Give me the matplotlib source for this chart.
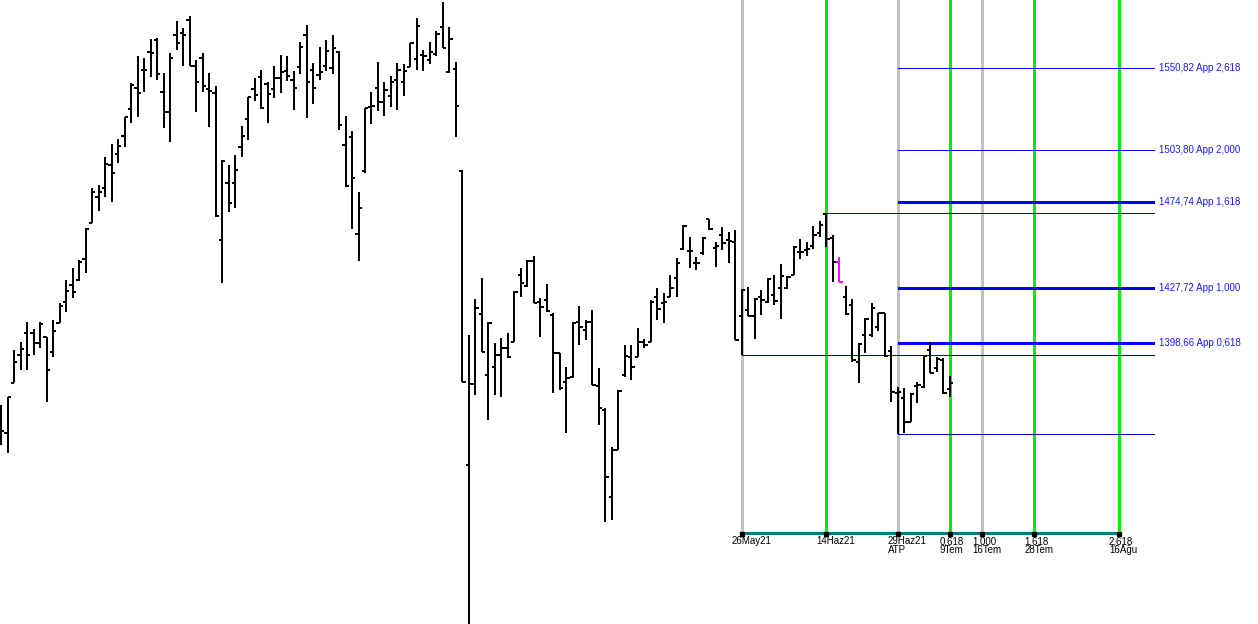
import numpy as np
import pandas as pd
import matplotlib
matplotlib.use('Agg')
import matplotlib.pyplot as plt
from matplotlib.collections import LineCollection

# Gunluk bar verisi (147 islem gunu, 9 Temmuz 2021'de biter)
dates = pd.bdate_range(end='2021-07-09', periods=147)

opens = [
    1353.2, 1352.2, 1377.8, 1392.4, 1403.9, 1403.9, 1398.6, 1401.8, 1394.0, 1409.2,
    1420.4, 1429.5, 1432.2, 1443.5, 1463.2, 1477.4, 1482.5, 1495.4, 1501.5, 1511.8,
    1527.1, 1539.2, 1549.7, 1560.2, 1567.3, 1536.9, 1525.5, 1570.3, 1571.4, 1579.1,
    1552.1, 1556.7, 1538.6, 1536.3, 1453.8, 1485.3, 1485.3, 1505.5, 1521.5, 1538.6,
    1545.6, 1541.5, 1538.6, 1545.0, 1549.1, 1543.9, 1551.5, 1570.3, 1549.7, 1546.8,
    1552.1, 1550.9, 1560.2, 1506.7, 1511.2, 1457.1, 1492.0, 1528.4, 1539.2, 1531.3,
    1534.6, 1543.9, 1542.7, 1551.5, 1556.1, 1558.5, 1555.6, 1559.0, 1575.0, 1548.5,
    1550.3, 1492.0, 1336.0, 1377.3, 1414.0, 1382.0, 1386.1, 1392.4, 1396.0, 1399.2,
    1434.9, 1428.9, 1442.4, 1420.4, 1421.4, 1413.5, 1393.4, 1378.4, 1380.9, 1409.8,
    1405.5, 1409.8, 1376.2, 1363.9, 1320.0, 1343.6, 1382.0, 1391.3, 1391.3, 1399.2,
    1399.2, 1423.0, 1419.8, 1423.0, 1433.2, 1448.9, 1447.9, 1441.4, 1446.8, 1465.4,
    1449.4, 1456.6, 1453.8, 1452.7, 1412.9, 1416.1, 1412.9, 1423.0, 1420.4, 1424.1,
    1427.8, 1427.8, 1434.9, 1447.3, 1448.4, 1450.5, 1457.7, 1468.1, 1454.9, 1441.9,
    1423.0, 1418.7, 1388.8, 1402.9, 1402.9, 1407.1, 1414.5, 1394.5, 1372.6, 1370.1,
    1357.8, 1376.2, 1375.8, 1395.0, 1385.6, 1389.8, 1374.7,
]
highs = [
    1366.5, 1370.5, 1395.0, 1399.2, 1409.8, 1406.1, 1409.8, 1401.8, 1410.8, 1419.8,
    1432.2, 1438.6, 1443.0, 1460.4, 1482.5, 1484.2, 1499.8, 1507.2, 1510.1, 1522.6,
    1542.1, 1557.9, 1556.7, 1567.9, 1568.5, 1547.9, 1559.6, 1578.5, 1574.4, 1581.6,
    1555.6, 1559.6, 1547.9, 1540.4, 1498.2, 1495.4, 1501.0, 1517.5, 1534.0, 1545.0,
    1549.7, 1542.7, 1552.1, 1558.5, 1557.9, 1549.1, 1566.1, 1576.2, 1553.8, 1563.2,
    1567.3, 1570.3, 1560.8, 1523.2, 1514.6, 1480.3, 1527.9, 1536.9, 1554.4, 1542.7,
    1546.2, 1553.8, 1553.2, 1565.5, 1580.4, 1561.4, 1566.1, 1572.6, 1589.8, 1575.0,
    1554.4, 1492.6, 1402.9, 1421.9, 1433.2, 1409.8, 1398.6, 1401.3, 1403.9, 1426.3,
    1438.6, 1443.0, 1445.1, 1422.4, 1430.0, 1414.5, 1393.4, 1386.1, 1409.8, 1418.2,
    1410.8, 1416.1, 1385.6, 1364.9, 1345.1, 1374.2, 1397.6, 1397.6, 1406.6, 1400.8,
    1421.4, 1427.8, 1425.2, 1434.9, 1444.0, 1462.1, 1455.5, 1444.6, 1455.5, 1465.4,
    1452.7, 1461.0, 1458.2, 1459.3, 1427.3, 1428.4, 1422.4, 1426.8, 1433.2, 1434.9,
    1440.8, 1434.4, 1450.5, 1454.3, 1452.7, 1461.5, 1464.3, 1468.66, 1456.6, 1444.6,
    1428.9, 1421.9, 1398.6, 1411.9, 1419.8, 1414.5, 1414.5, 1397.0, 1375.8, 1375.2,
    1372.6, 1378.4, 1392.4, 1399.2, 1391.3, 1390.8, 1381.5,
]
lows = [
    1346.1, 1342.1, 1377.8, 1384.6, 1384.6, 1392.4, 1396.0, 1368.0, 1391.3, 1409.2,
    1415.1, 1422.4, 1431.6, 1436.0, 1463.2, 1469.8, 1477.4, 1474.7, 1496.5, 1505.5,
    1519.2, 1522.6, 1536.9, 1545.6, 1543.9, 1516.4, 1508.4, 1561.4, 1552.1, 1552.1,
    1525.5, 1536.9, 1516.9, 1466.5, 1430.6, 1469.2, 1471.4, 1499.8, 1509.5, 1531.8,
    1527.1, 1519.2, 1533.4, 1536.3, 1543.3, 1526.6, 1547.3, 1522.1, 1530.1, 1543.9,
    1549.1, 1547.3, 1515.2, 1483.0, 1459.8, 1442.4, 1490.9, 1518.6, 1526.0, 1523.2,
    1528.4, 1526.6, 1534.6, 1551.5, 1549.7, 1549.1, 1553.2, 1557.9, 1562.6, 1547.9,
    1511.2, 1378.4, 1251.0, 1371.6, 1394.0, 1358.8, 1371.6, 1370.5, 1390.8, 1399.2,
    1423.0, 1428.4, 1419.8, 1401.8, 1415.1, 1372.6, 1374.2, 1352.2, 1380.4, 1397.6,
    1400.2, 1376.8, 1356.3, 1307.7, 1308.7, 1343.6, 1380.9, 1379.4, 1391.3, 1396.0,
    1399.2, 1410.8, 1409.2, 1423.0, 1423.0, 1448.4, 1438.6, 1437.6, 1445.7, 1459.3,
    1439.2, 1448.4, 1441.4, 1400.2, 1392.58, 1412.9, 1400.8, 1413.5, 1419.8, 1418.7,
    1411.3, 1427.3, 1434.9, 1443.5, 1445.1, 1448.9, 1455.5, 1450.0, 1431.1, 1431.1,
    1413.5, 1388.8, 1377.8, 1393.4, 1401.8, 1405.0, 1391.3, 1368.0, 1351.64, 1352.2,
    1357.8, 1367.5, 1375.2, 1383.0, 1383.5, 1372.1, 1370.5,
]
closes = [
    1353.2, 1370.5, 1388.8, 1395.5, 1392.4, 1398.6, 1408.7, 1384.6, 1405.0, 1418.2,
    1426.3, 1425.7, 1441.9, 1459.8, 1480.3, 1480.3, 1495.9, 1490.9, 1506.1, 1522.6,
    1541.0, 1536.3, 1549.7, 1559.6, 1547.3, 1525.5, 1556.7, 1565.5, 1570.3, 1552.1,
    1542.7, 1540.4, 1537.5, 1467.0, 1497.6, 1474.2, 1492.6, 1511.8, 1534.0, 1535.2,
    1527.9, 1535.7, 1545.0, 1548.5, 1546.2, 1539.2, 1563.2, 1542.7, 1539.2, 1548.5,
    1560.8, 1562.6, 1518.1, 1483.6, 1488.1, 1471.4, 1527.9, 1529.0, 1531.3, 1538.1,
    1542.7, 1549.7, 1549.1, 1565.5, 1575.6, 1557.9, 1560.2, 1570.8, 1562.6, 1567.9,
    1529.0, 1378.4, 1377.3, 1417.2, 1394.0, 1409.2, 1392.4, 1396.0, 1391.3, 1425.7,
    1430.6, 1442.4, 1419.8, 1417.7, 1415.6, 1393.4, 1375.2, 1380.4, 1409.2, 1407.1,
    1409.8, 1376.8, 1364.9, 1330.0, 1343.6, 1373.7, 1391.8, 1386.1, 1399.2, 1397.6,
    1420.4, 1416.7, 1420.4, 1427.8, 1441.4, 1461.5, 1447.9, 1441.4, 1454.9, 1459.8,
    1450.5, 1452.2, 1453.3, 1400.2, 1426.8, 1412.9, 1421.9, 1421.4, 1432.7, 1420.9,
    1434.4, 1433.8, 1450.0, 1447.3, 1448.9, 1456.6, 1462.1, 1454.3, 1441.9, 1431.1,
    1414.0, 1389.8, 1398.1, 1411.3, 1417.2, 1414.5, 1391.8, 1373.2, 1373.2, 1357.8,
    1372.1, 1376.8, 1391.8, 1383.0, 1390.3, 1372.6, 1377.8,
]
highlight_date = '2021-06-16'   # secili bar (pembe)

# Fibonacci zaman / fiyat projeksiyonu
point_dates = ['2021-05-26', '2021-06-14', '2021-06-29']   # A, B, C
time_dates = ['2021-05-26', '2021-06-14', '2021-06-29', '2021-07-09',
              '2021-07-16', '2021-07-28', '2021-08-16']
time_labels = ['26May21', '14Haz21', '29Haz21\nATP', '0,618\n9Tem',
               '1,000\n16Tem', '1,618\n28Tem', '2,618\n16Ağu']
time_kind = ['gri', 'yesil', 'gri', 'yesil', 'gri', 'yesil', 'yesil']
ratios = [0.618, 1.0, 1.618, 2.0, 2.618]
ratio_thick = [True, True, True, False, False]

# --- cizim ---
n = len(dates)
x = np.arange(n)
pos = {d.strftime('%Y-%m-%d'): i for i, d in enumerate(dates)}
base = pos[time_dates[0]]
t_idx = [base + np.busday_count(time_dates[0], d) for d in time_dates]

iA, iB, iC = [pos[d] for d in point_dates]
A, B, C = lows[iA], highs[iB], lows[iC]
levels = [C + r * (B - A) for r in ratios]

fig = plt.figure(figsize=(12.58, 6.24), dpi=100)
ax = fig.add_axes([0, 0, 1, 1])
ax.set_yscale('log')
ax.set_xlim(-0.154, 193.385)
ax.set_ylim(1258.54, 1591.0)
ax.axis('off')

px = 0.72  # 1 piksel = 0.72 pt
bottom = 91 / 624
renk = {'gri': '#c0c0c0', 'yesil': '#00ee00'}
xt = ax.get_xaxis_transform()

for xi, k in zip(t_idx, time_kind):
    ax.axvline(xi, ymin=bottom, ymax=1, color=renk[k], lw=3 * px, zorder=2,
               antialiased=False)
ax.plot([t_idx[0], t_idx[-1]], [bottom, bottom], color='#008080', lw=3 * px,
        transform=xt, zorder=3, solid_capstyle='butt', antialiased=False)
ax.plot(t_idx, [bottom - 0.002] * len(t_idx), 's', ms=2.6, color='black',
        transform=xt, zorder=4)
for xi, lab in zip(t_idx, time_labels):
    ax.text(xi - 1.55, 1 - 536 / 624, lab, transform=xt, ha='left', va='top',
            fontsize=7, family='Liberation Sans', linespacing=0.92)

level_end = t_idx[-1] + 5.4
for start, val in zip([t_idx[0], t_idx[1], t_idx[2]], [A, B, C]):
    ax.hlines(val, start, level_end, colors='#0000b4', lw=px, zorder=3,
              antialiased=False)
for r, val, thick in zip(ratios, levels, ratio_thick):
    ax.hlines(val, t_idx[2], level_end, colors='#0000ff',
              lw=(3 if thick else 1) * px, zorder=3, antialiased=False)
    lab = f"{val:.2f} App {r:.3f}".replace('.', ',')
    ax.text(level_end + 0.7, val, lab, color='#1a1aff', fontsize=7,
            family='Liberation Sans', va='center', ha='left')

# OHLC barlari
tk = 0.5
segs, cols = [], []
hl = pos[highlight_date]
for i in range(n):
    c = '#ff00ff' if i == hl else 'black'
    segs += [[(x[i], lows[i]), (x[i], highs[i])],
             [(x[i] - tk, opens[i]), (x[i], opens[i])],
             [(x[i], closes[i]), (x[i] + tk, closes[i])]]
    cols += [c, c, c]
ax.add_collection(LineCollection(segs, colors=cols, linewidths=2 * px,
                                 capstyle='butt', zorder=5, antialiased=False))

fig.savefig('out.png', dpi=100)
